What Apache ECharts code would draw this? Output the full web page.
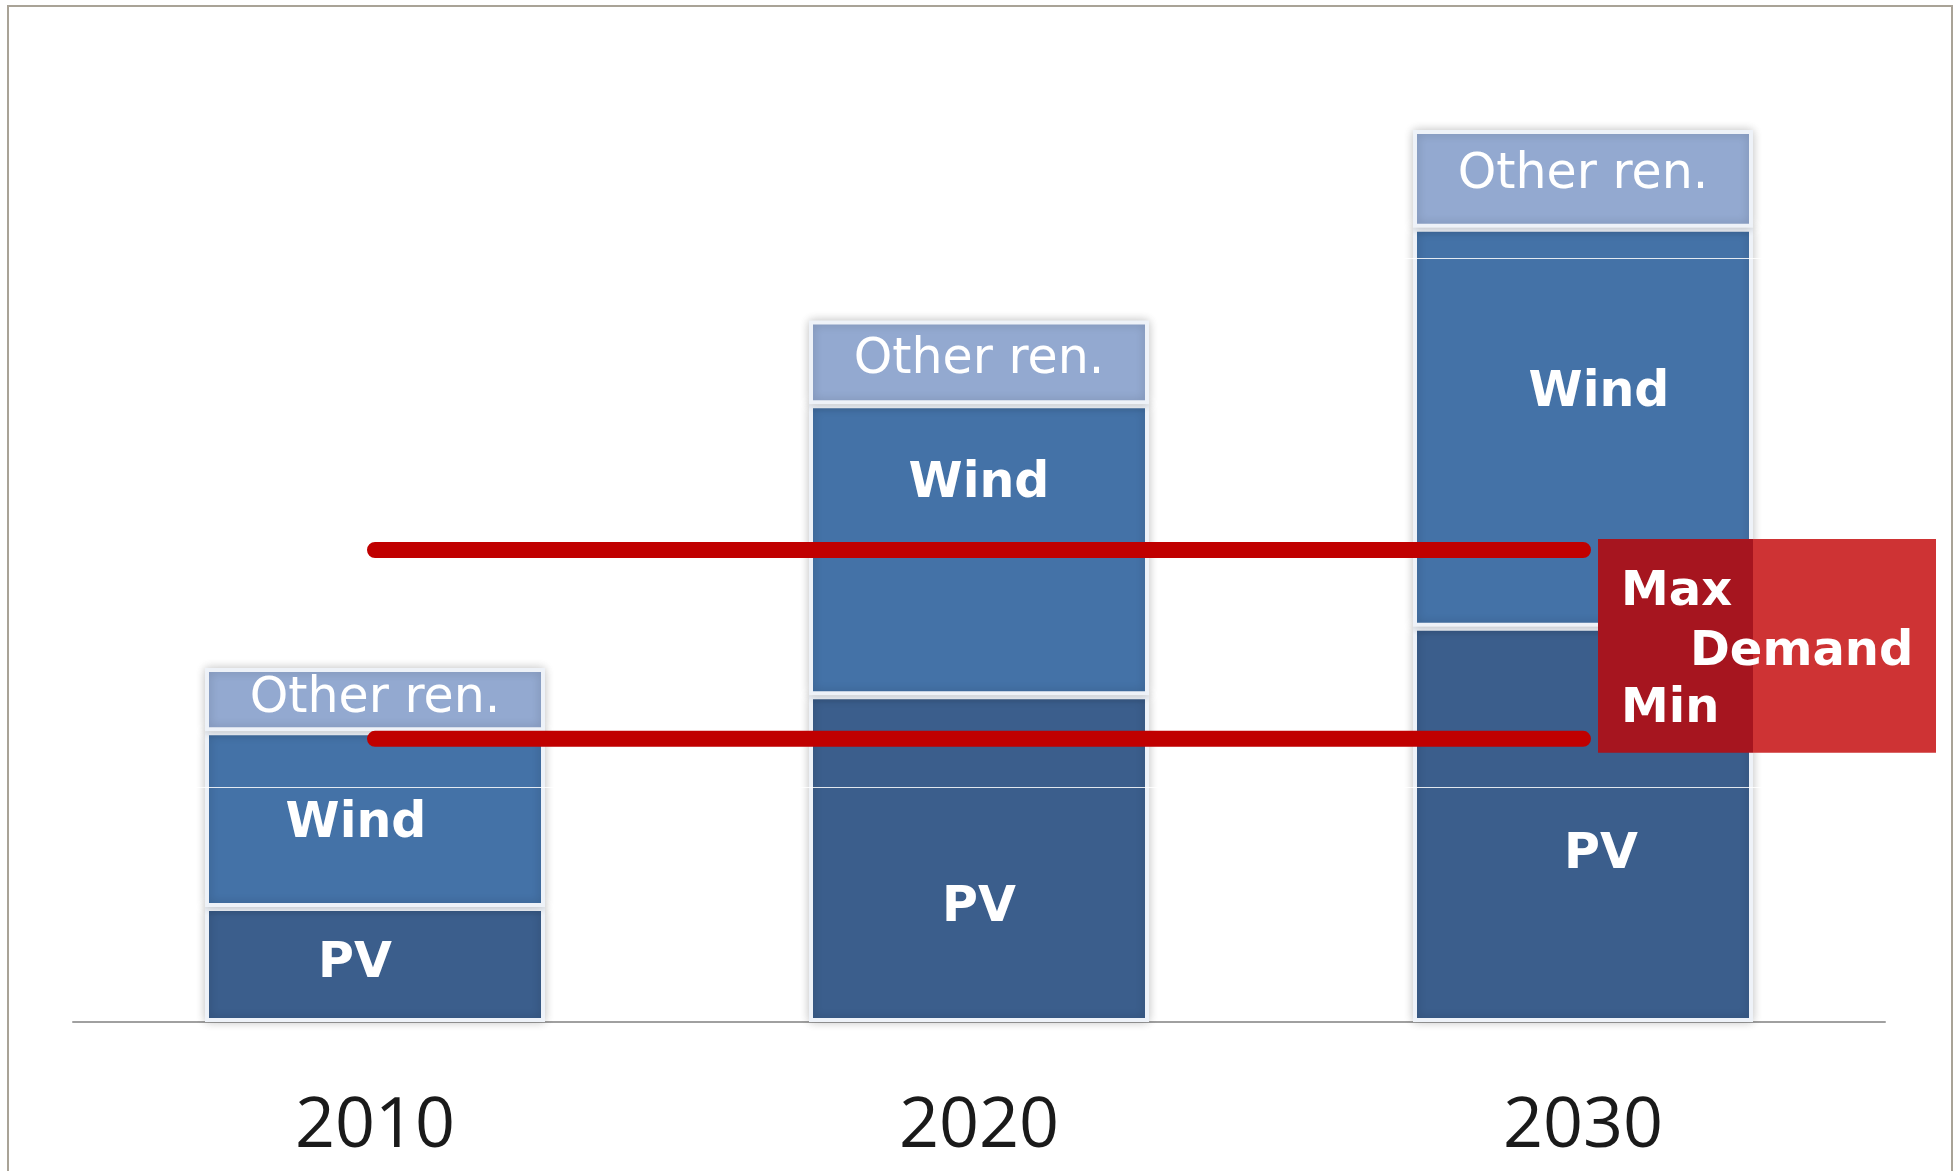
<!DOCTYPE html>
<html>
<head>
<meta charset="utf-8">
<script src="https://cdn.jsdelivr.net/npm/echarts@6/dist/echarts.min.js"></script>
<style>
  html, body { margin: 0; padding: 0; background: #ffffff; }
  #chart { width: 1959px; height: 1171px; }
</style>
</head>
<body>
<div id="chart"></div>
<script>
// Installed renewable capacity per year, stacked (GW)
const years = ['2010', '2020', '2030'];
const pv = [19.5, 55.4, 67.0];
const wind = [29.8, 49.3, 67.6];
const otherRen = [10.7, 14.2, 16.6];

// Demand band (GW)
const demandMax = 80;
const demandMin = 48;

// Faint white rules running across the bars
const faintRules = [39.8, 129.5];

// Label nudges inside each segment [dx, dy] in px
const pvLabelShift = [[-20, 0], [0, 50], [18, 31]];
const windLabelShift = [[-19, 5], [0, -65], [16, -34]];
const otherLabelShift = [[0, 0], [0, -2], [0, -4]];

const BAR_W = 340;
const C_PV = '#3B5E8C';
const C_WIND = '#4472A7';
const C_OTHER = '#93A9D0';
const C_DEMAND = '#C00000';

const chart = echarts.init(document.getElementById('chart'), null, { renderer: 'canvas' });

const segStyle = (color) => ({
  color: color,
  borderColor: '#eef2f8',
  borderWidth: 4,
  shadowBlur: 10,
  shadowColor: 'rgba(0,0,0,0.2)'
});

const segLabel = (text, bold) => ({
  show: true,
  position: 'inside',
  formatter: text,
  color: '#ffffff',
  fontFamily: 'DejaVu Sans',
  fontWeight: bold ? 'bold' : 'normal',
  fontSize: 49
});

const withShift = (values, shifts) =>
  values.map((v, i) => ({ value: v, label: { offset: shifts[i] } }));

const option = {
  animation: false,
  backgroundColor: '#ffffff',
  grid: { left: 73, right: 74, top: 78, bottom: 149, containLabel: false },
  xAxis: {
    type: 'category',
    data: years,
    boundaryGap: true,
    axisLine: { show: true, lineStyle: { color: '#a0a0a0', width: 2 } },
    axisTick: { show: false },
    axisLabel: {
      color: '#1a1a1a',
      fontFamily: 'Open Sans',
      fontSize: 70,
      margin: 70
    },
    splitLine: { show: false }
  },
  yAxis: {
    type: 'value',
    min: 0,
    max: 160,
    show: false,
    splitLine: { show: false }
  },
  series: [
    {
      name: 'PV',
      type: 'bar',
      stack: 'ren',
      barWidth: BAR_W,
      data: withShift(pv, pvLabelShift),
      itemStyle: segStyle(C_PV),
      label: segLabel('PV', true),
      emphasis: { disabled: true },
      z: 2
    },
    {
      name: 'Wind',
      type: 'bar',
      stack: 'ren',
      barWidth: BAR_W,
      data: withShift(wind, windLabelShift),
      itemStyle: segStyle(C_WIND),
      label: segLabel('Wind', true),
      emphasis: { disabled: true },
      z: 2
    },
    {
      name: 'Other ren.',
      type: 'bar',
      stack: 'ren',
      barWidth: BAR_W,
      data: withShift(otherRen, otherLabelShift),
      itemStyle: segStyle(C_OTHER),
      label: segLabel('Other ren.', false),
      emphasis: { disabled: true },
      z: 2
    },
    {
      name: 'Max demand',
      type: 'line',
      data: years.map(() => demandMax),
      symbol: 'none',
      lineStyle: { color: C_DEMAND, width: 16, cap: 'round' },
      emphasis: { disabled: true },
      silent: true,
      z: 5,
      markLine: {
        silent: true,
        symbol: 'none',
        label: { show: false },
        lineStyle: { color: 'rgba(255,255,255,0.85)', width: 1, type: 'solid' },
        data: faintRules.map(v => ({ yAxis: v }))
      }
    },
    {
      name: 'Min demand',
      type: 'line',
      data: years.map(() => demandMin),
      symbol: 'none',
      lineStyle: { color: C_DEMAND, width: 16, cap: 'round' },
      emphasis: { disabled: true },
      silent: true,
      z: 5
    }
  ]
};

chart.setOption(option);

// Demand annotation box anchored to the last bar and the demand levels
const cx = chart.convertToPixel({ xAxisIndex: 0 }, years[2]);
const barRight = cx + BAR_W / 2;
const yMaxPx = chart.convertToPixel({ yAxisIndex: 0 }, demandMax);
const yMinPx = chart.convertToPixel({ yAxisIndex: 0 }, demandMin);
const boxL = cx + 15;
const boxR = barRight + 183;
const boxT = yMaxPx - 11;
const boxB = yMinPx + 14;
const boxFont = 'bold 48px "DejaVu Sans"';

chart.setOption({
  graphic: [
    {
      type: 'rect',
      z: 100,
      silent: true,
      shape: { x: 8, y: 6, width: 1944, height: 1220 },
      style: { fill: 'transparent', stroke: '#a9a397', lineWidth: 2 }
    },
    {
      type: 'rect',
      z: 50,
      silent: true,
      shape: { x: barRight, y: boxT, width: boxR - barRight, height: boxB - boxT },
      style: { fill: '#CE3334' }
    },
    {
      type: 'rect',
      z: 50,
      silent: true,
      shape: { x: boxL, y: boxT, width: barRight - boxL, height: boxB - boxT },
      style: { fill: '#A6151F' }
    },
    {
      type: 'text',
      z: 51,
      silent: true,
      style: { text: 'Max', x: boxL + 23, y: yMaxPx + 43, font: boxFont, fill: '#ffffff', textAlign: 'left', textVerticalAlign: 'middle' }
    },
    {
      type: 'text',
      z: 51,
      silent: true,
      style: { text: 'Demand', x: boxL + 92, y: yMaxPx + 103, font: boxFont, fill: '#ffffff', textAlign: 'left', textVerticalAlign: 'middle' }
    },
    {
      type: 'text',
      z: 51,
      silent: true,
      style: { text: 'Min', x: boxL + 23, y: yMinPx - 29, font: boxFont, fill: '#ffffff', textAlign: 'left', textVerticalAlign: 'middle' }
    }
  ]
});
</script>
</body>
</html>
